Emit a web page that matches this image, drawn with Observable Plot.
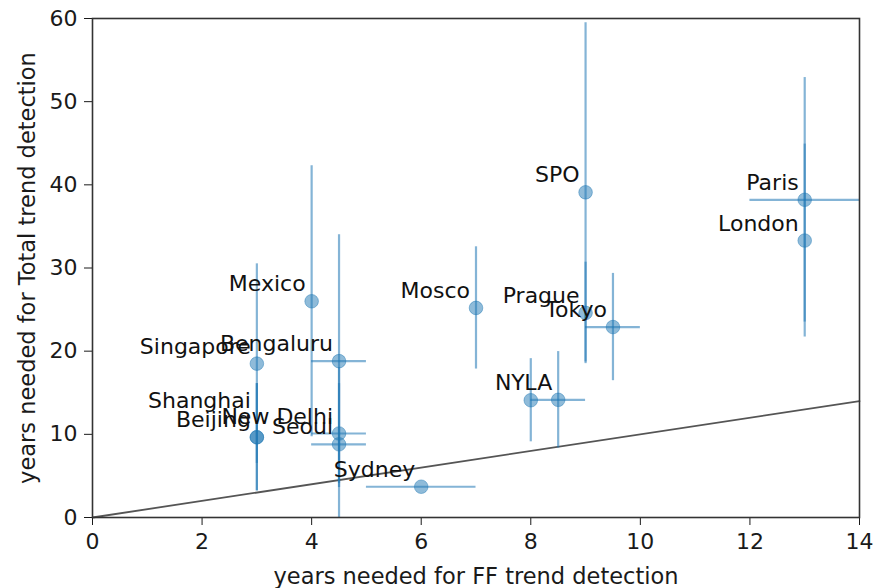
<!DOCTYPE html>
<html>
<head>
<meta charset="utf-8">
<script src="https://cdn.jsdelivr.net/npm/d3@7"></script>
<script src="https://cdn.jsdelivr.net/npm/@observablehq/plot@0.6"></script>
<style>
  html, body { margin: 0; padding: 0; background: #fff; }
  svg { display: block; }
</style>
</head>
<body>
<div id="chart"></div>
<script>
// Cities and their detection times (years)
const names    = ["Mexico", "Mosco", "SPO", "Paris", "London", "Prague", "Tokyo", "Singapore", "Bengaluru", "Shanghai", "Beijing", "New Delhi", "Seoul", "Sydney", "NY", "LA"];
const ffYears  = [4, 7, 9, 13, 13, 9, 9.5, 3, 4.5, 3, 3, 4.5, 4.5, 6, 8, 8.5];
const totYears = [26, 25.2, 39.1, 38.2, 33.3, 24.6, 22.9, 18.5, 18.8, 9.65, 9.65, 10.1, 8.8, 3.7, 14.1, 14.15];
const ffErr    = [0, 0, 0, 1, 0, 0, 0.5, 0, 0.5, 0, 0, 0.5, 0.5, 1, 0, 0.5];
const totErr   = [16.3, 7.35, 20.4, 14.7, 11.6, 6.1, 6.45, 12, 15.2, 6.45, 6.45, 6, 9.2, 0, 5, 5.8];

const xTicks = [0, 2, 4, 6, 8, 10, 12, 14];
const yTicks = [0, 10, 20, 30, 40, 50, 60];
const refLine = [{x: 0, y: 0}, {x: 14, y: 14}];

const xLabel = "years needed for FF trend detection";
const yLabel = "years needed for Total trend detection";

const data = names.map((n, i) => ({
  name: n, ff: ffYears[i], tot: totYears[i], fe: ffErr[i], te: totErr[i]
}));

const blue = "#1f77b4";
const fs = 22;

const chart = Plot.plot({
  width: 876,
  height: 588,
  marginLeft: 92,
  marginRight: 17,
  marginTop: 18,
  marginBottom: 71,
  style: {fontFamily: "DejaVu Sans", fontSize: fs + "px", color: "#1a1a1a", background: "#fff"},
  x: {domain: [0, 14]},
  y: {domain: [0, 60]},
  marks: [
    Plot.line(refLine, {x: "x", y: "y", stroke: "#555", strokeWidth: 1.8}),
    Plot.ruleX(data.filter(d => d.te > 0), {x: "ff", y1: d => d.tot - d.te, y2: d => d.tot + d.te, stroke: blue, strokeOpacity: 0.55, strokeWidth: 2.2, clip: true}),
    Plot.ruleY(data.filter(d => d.fe > 0), {y: "tot", x1: d => d.ff - d.fe, x2: d => d.ff + d.fe, stroke: blue, strokeOpacity: 0.55, strokeWidth: 2.2, clip: true}),
    Plot.dot(data, {x: "ff", y: "tot", r: 6.8, fill: blue, fillOpacity: 0.5, stroke: blue, strokeOpacity: 0.45, strokeWidth: 1}),
    Plot.text(data.filter(d => d.name !== "Shanghai"), {x: "ff", y: "tot", text: "name", textAnchor: "end", lineAnchor: "bottom", dx: -6, dy: -10, fill: "#111", fontSize: fs}),
    Plot.text(data.filter(d => d.name === "Shanghai"), {x: "ff", y: "tot", text: "name", textAnchor: "end", lineAnchor: "bottom", dx: -6, dy: -29, fill: "#111", fontSize: fs}),
    Plot.axisX({ticks: xTicks, tickSize: 8, tickPadding: 8, label: null, tickFormat: d => String(d), fontSize: fs}),
    Plot.axisY({ticks: yTicks, tickSize: 8, tickPadding: 7, label: null, tickFormat: d => String(d), fontSize: fs}),
    Plot.frame({stroke: "#333", strokeWidth: 1.6}),
    Plot.text([xLabel], {frameAnchor: "bottom", text: d => d, textAnchor: "middle", lineAnchor: "bottom", dy: 66, fill: "#1a1a1a", fontSize: 22.5}),
    Plot.text([yLabel], {frameAnchor: "left", text: d => d, textAnchor: "middle", rotate: -90, lineAnchor: "bottom", dx: -58, fill: "#1a1a1a", fontSize: 22.5})
  ]
});

document.getElementById("chart").appendChild(chart);
</script>
</body>
</html>
